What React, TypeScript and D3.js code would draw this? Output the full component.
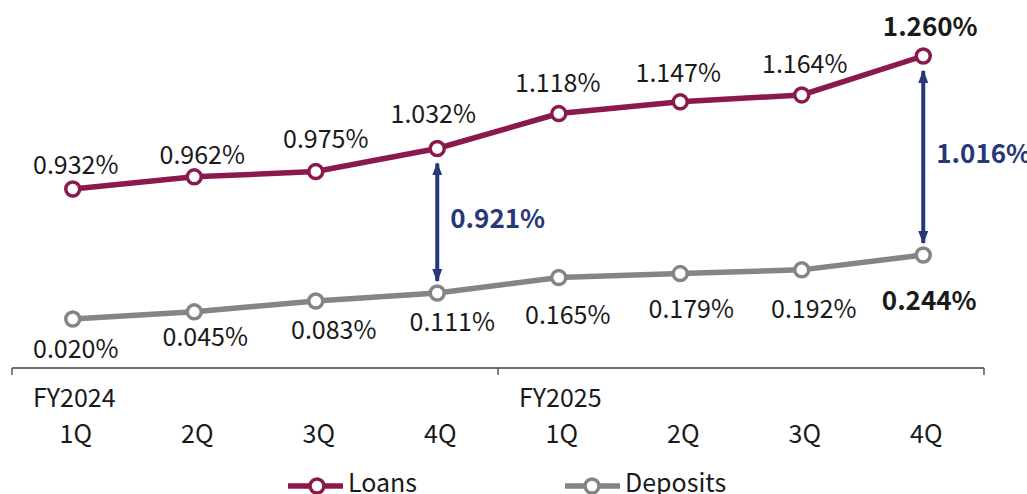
import React from "react";
import * as d3 from "d3";

const quarters = ["1Q", "2Q", "3Q", "4Q", "1Q", "2Q", "3Q", "4Q"];
const fiscalYears = ["FY2024", "FY2025"];
const loans = [0.932, 0.962, 0.975, 1.032, 1.118, 1.147, 1.164, 1.26];
const deposits = [0.02, 0.045, 0.083, 0.111, 0.165, 0.179, 0.192, 0.244];
const spreadIdx = [3, 7];
const spreads = [0.921, 1.016];

// label placement offsets (styling)
const loanLabelDx = [3, 8, 10, -4, -1, -2, 3, 7];
const loanLabelDy = [-15, -13, -24, -25, -22, -20, -22, -20];
const depLabelDx = [3, 11, 18, 15, 9, 11, 12, 6];
const depLabelDy = [39, 34, 38, 38, 46, 44, 48, 55];

const W = 1027;
const H = 494;
const FONT = "'Noto Sans CJK JP', 'Noto Sans', sans-serif";
const LOAN_C = "#8A1A4E";
const DEP_C = "#858585";
const ARROW_C = "#263878";
const TEXT_C = "#1a1a1a";

export default function App() {
  const x = d3.scaleBand<number>().domain(d3.range(8)).range([12, 984]);
  const cx = (i: number) => (x(i) as number) + x.bandwidth() / 2;
  const yL = d3.scaleLinear().domain([0.932, 1.26]).range([189, 56]);
  const yD = d3.scaleLinear().domain([0.02, 0.244]).range([319, 255]);
  const lineL = d3.line<number>().x((_, i) => cx(i)).y((d) => yL(d));
  const lineD = d3.line<number>().x((_, i) => cx(i)).y((d) => yD(d));
  const fmt = (v: number) => v.toFixed(3) + "%";
  const axisY = 368;
  const last = loans.length - 1;

  return (
    <svg width={W} height={H} style={{ position: "absolute", left: 0, top: 0 }} fontFamily={FONT}>
      <defs>
        <marker id="ah" viewBox="0 0 10 10" refX="9" refY="5" markerWidth="3.3" markerHeight="3.3" orient="auto-start-reverse" markerUnits="strokeWidth">
          <path d="M0,1.2 L10,5 L0,8.8 z" fill={ARROW_C} />
        </marker>
      </defs>
      {/* axis */}
      <line x1={12} x2={984} y1={axisY} y2={axisY} stroke="#404040" strokeWidth={1.3} />
      {[0, 4, 8].map((k) => {
        const xx = k === 8 ? 984 : (x(k) as number);
        return <line key={k} x1={xx} x2={xx} y1={axisY} y2={axisY + 7} stroke="#404040" strokeWidth={1.3} />;
      })}
      {fiscalYears.map((fy, k) => (
        <text key={fy} x={(x(k * 4) as number) + 21} y={407} fontSize={25} fill={TEXT_C}>{fy}</text>
      ))}
      {quarters.map((q, i) => (
        <text key={i} x={cx(i) + 3} y={443} fontSize={25} textAnchor="middle" fill={TEXT_C}>{q}</text>
      ))}

      {/* lines */}
      <path d={lineD(deposits) || ""} fill="none" stroke={DEP_C} strokeWidth={5.5} />
      <path d={lineL(loans) || ""} fill="none" stroke={LOAN_C} strokeWidth={5.5} />
      {deposits.map((v, i) => (
        <circle key={"d" + i} cx={cx(i)} cy={yD(v)} r={7} fill="white" stroke={DEP_C} strokeWidth={3.5} />
      ))}
      {loans.map((v, i) => (
        <circle key={"l" + i} cx={cx(i)} cy={yL(v)} r={7} fill="white" stroke={LOAN_C} strokeWidth={3.5} />
      ))}

      {/* labels */}
      {loans.map((v, i) => (
        <text key={"ll" + i} x={cx(i) + loanLabelDx[i]} y={yL(v) + loanLabelDy[i]} fontSize={i === last ? 26 : 25}
          fontWeight={i === last ? 700 : 400} textAnchor="middle" fill={TEXT_C}>{fmt(v)}</text>
      ))}
      {deposits.map((v, i) => (
        <text key={"dl" + i} x={cx(i) + depLabelDx[i]} y={yD(v) + depLabelDy[i]} fontSize={i === last ? 26 : 25}
          fontWeight={i === last ? 700 : 400} textAnchor="middle" fill={TEXT_C}>{fmt(v)}</text>
      ))}

      {/* spread arrows */}
      {spreadIdx.map((idx, k) => {
        const xx = cx(idx);
        const y1 = yL(loans[idx]) + 15;
        const y2 = yD(deposits[idx]) - 12;
        return (
          <g key={"s" + k}>
            <line x1={xx} x2={xx} y1={y1} y2={y2} stroke={ARROW_C} strokeWidth={4}
              markerStart="url(#ah)" markerEnd="url(#ah)" />
            <text x={xx + 13} y={(y1 + y2) / 2 + 6} fontSize={26} fontWeight={700} fill={ARROW_C}>{fmt(spreads[k])}</text>
          </g>
        );
      })}

      {/* legend */}
      <g>
        <line x1={288} x2={343} y1={486} y2={486} stroke={LOAN_C} strokeWidth={5.5} />
        <circle cx={317} cy={486} r={7} fill="white" stroke={LOAN_C} strokeWidth={3.5} />
        <text x={348} y={492} fontSize={25} fill={TEXT_C}>Loans</text>
        <line x1={565} x2={620} y1={486} y2={486} stroke={DEP_C} strokeWidth={5.5} />
        <circle cx={592} cy={486} r={7} fill="white" stroke={DEP_C} strokeWidth={3.5} />
        <text x={625} y={492} fontSize={25} fill={TEXT_C}>Deposits</text>
      </g>
    </svg>
  );
}
